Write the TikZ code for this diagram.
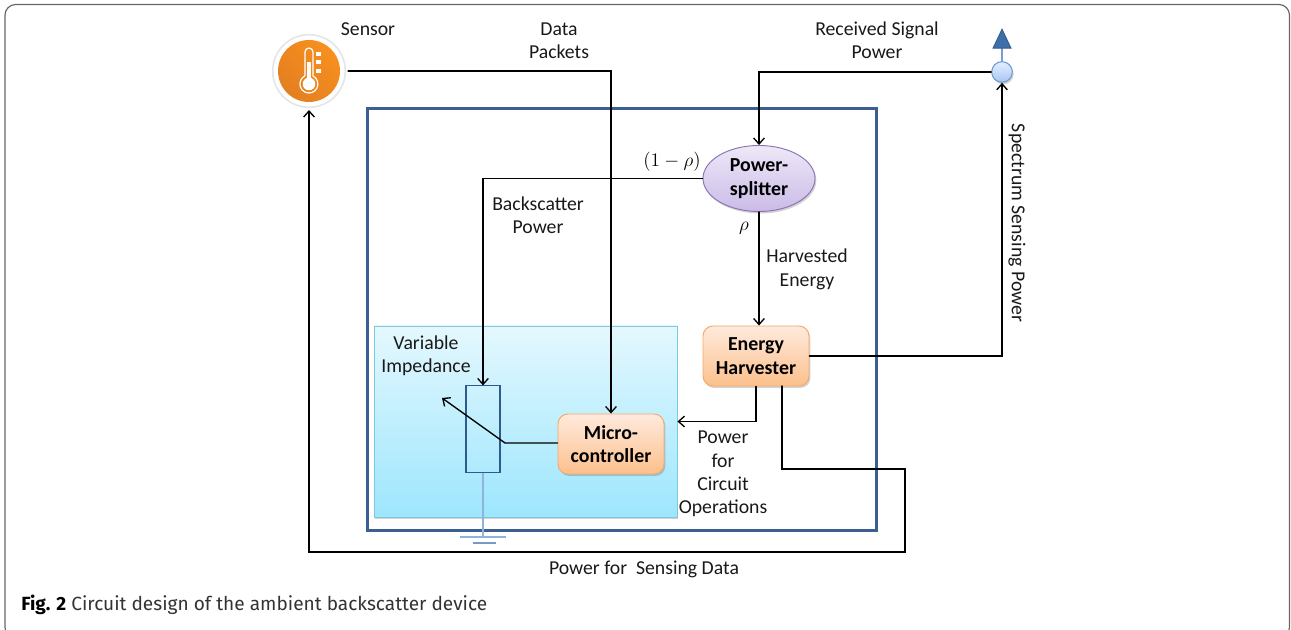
\documentclass[tikz,border=0pt]{standalone}
\usepackage{fontspec}
\setmainfont{Carlito}
\newfontfamily\capfont{Fira Sans}
\usetikzlibrary{arrows.meta,shapes.geometric,shadows,calc}
\definecolor{frameblue}{HTML}{3B5F91}
\definecolor{resblue}{HTML}{2F5A8C}
\definecolor{gndblue}{HTML}{8FB4DC}
\definecolor{orangetop}{HTML}{FFEADD}
\definecolor{orangebot}{HTML}{FCC08C}
\definecolor{orangeline}{HTML}{F6A868}
\definecolor{panelline}{HTML}{7CC8DC}
\definecolor{paneltop}{HTML}{E4F8FE}
\definecolor{panelbot}{HTML}{9DE6FD}
\definecolor{sensorin}{HTML}{F7901F}
\definecolor{sensorout}{HTML}{E47F20}
\definecolor{antline}{HTML}{6D9BD0}
\definecolor{anttop}{HTML}{E4EEFF}
\definecolor{antbot}{HTML}{A8C6F4}
\definecolor{trifill}{HTML}{3F6FA8}
\definecolor{triline}{HTML}{2F5A90}
\definecolor{splitline}{HTML}{8A72B4}
\definecolor{splittop}{HTML}{EEE8F8}
\definecolor{splitbot}{HTML}{CBBBE7}
\tikzset{
  conn/.style={line width=1pt,black,line cap=round,line join=miter},
  arr/.style={conn,-{Straight Barb[length=4.5pt,width=8pt,line width=1pt]}},
  softshadow/.style={drop shadow={shadow xshift=1pt,shadow yshift=-1.5pt,opacity=.25,fill=black!70}},
  boldtext/.style={font=\fontsize{14.9pt}{17.6pt}\selectfont\bfseries},
  orangebox/.style={rectangle,rounded corners=7.5pt,minimum width=79.5pt,minimum height=45pt,inner sep=0pt,align=center,
    top color=orangetop,bottom color=orangebot,draw=orangeline,line width=.7pt,softshadow,boldtext},
  lbl/.style={align=center,inner sep=0pt,font=\fontsize{14.8pt}{17.6pt}\selectfont,text=black!90},
  mathlbl/.style={inner sep=0pt,font=\fontsize{15pt}{18pt}\selectfont,text=black},
}
\begin{document}
\begin{tikzpicture}[x=0.75pt,y=-0.75pt]
\useasboundingbox (0,0) rectangle (1291,630);
% card frame, cut by the lower edge of the picture
\begin{scope}
\clip (0,0) rectangle (1291,630);
\draw[line width=.9pt,black!60,rounded corners=8pt] (5,4.5) rectangle (1289.5,638);
\end{scope}
% outer device rectangle
\node (device) [rectangle,minimum width=381pt,minimum height=315.75pt,inner sep=0pt] at (622,319.5) {};
\draw[frameblue,line width=2.3pt] (device.south west) rectangle (device.north east);
% cyan panel
\node (panel) [rectangle,draw=panelline,line width=.7pt,top color=paneltop,bottom color=panelbot,minimum width=227.25pt,minimum height=143.25pt,inner sep=0pt,softshadow] at (525.5,421.5) {};
% sensor
\node (sensor) [circle,draw=black!10,line width=1.2pt,fill=white,minimum size=54.5pt,inner sep=0pt,outer sep=2pt] at (309,71) {};
\node (sensorcore) [circle,top color=sensorin,bottom color=sensorout,shading angle=-45,minimum size=46.5pt,inner sep=0pt] at (309,71) {};
\draw[white,line width=.9pt] (305,76) -- (305,52) arc[start angle=180,end angle=360,radius=4] -- (313,76) arc[start angle=-63,end angle=243,radius=9];
\fill[white] (307,62) rectangle (311,80);
\fill[white] (309,84) circle[radius=6.3];
\fill[white] (316,52.5) rectangle (321,56);
\fill[white] (316,60.5) rectangle (321,64);
\fill[white] (316,69.5) rectangle (321,73);
% antenna
\node (ant) [circle,draw=antline,line width=.8pt,top color=anttop,bottom color=antbot,minimum size=15.5pt,inner sep=0pt,softshadow] at (1002,72) {};
\draw[line width=1pt,gndblue!85!blue] (ant.north) -- ++(0,-13);
\draw[fill=trifill,draw=triline,line width=.6pt,line join=miter] ($(ant.north)+(0,-13)$) -- ++(-9,0) -- ++(9,-19) -- ++(9,19) -- cycle;
% blocks
\node (split) [ellipse,draw=splitline,line width=.7pt,top color=splittop,bottom color=splitbot,minimum width=84pt,minimum height=49.5pt,inner sep=0pt,align=center,softshadow,boldtext] at (759,178.5) {\raisebox{-.6pt}{Power-}\\\raisebox{-.6pt}{splitter}};
\node (eh) [orangebox] at (756,356) {\raisebox{-.6pt}{Energy}\\\raisebox{-.6pt}{Harvester}};
\node (micro) [orangebox] at (611,444) {Micro-\\controller};
\node (res) [rectangle,minimum width=25pt,minimum height=65pt,inner sep=0pt] at (483,429) {};
\draw[resblue,line width=1.3pt] (res.south west) rectangle (res.north east);
% ground
\coordinate (g1) at (483,537);
\coordinate (g2a) at (460,537);
\coordinate (g2b) at (506,537);
\coordinate (g3a) at (473,543);
\coordinate (g3b) at (496,543);
\draw[gndblue,line width=1pt] (res.south) -- (g1) (g2a) -- (g2b);
\draw[gndblue!70!frameblue,line width=.9pt] (g3a) -- (g3b);
% connectors
\coordinate (eh2) at (782,386);
\coordinate (c1) at (905,469);
\coordinate (c2) at (905,552);
\coordinate (knee) at (505,443);
\coordinate (tip) at (442,398);
\draw[arr] (sensor.east) -- (sensor.east -| micro.north) -- (micro.north);
\draw[arr] (ant.west) -- (ant.west -| split.north) -- (split.north);
\draw[arr] (split.west) -- (split.west -| res.north) -- (res.north);
\draw[arr] (split.south) -- (split.south |- eh.north);
\draw[arr] (eh.east) -- (eh.east -| ant.south) -- (ant.south);
\draw[arr] (eh.south) |- (panel.east);
\draw[arr] (eh2) |- (c1) -- (c2) -| (sensor.south);
\draw[arr] (micro.west |- knee) -- (knee) -- (tip);
% labels
\node (lsensor) [lbl] at (368,29) {Sensor};
\node (ldata) [lbl] at (559,40.5) {Data\\Packets};
\node (lrec) [lbl] at (877,40) {Received Signal\\Power};
\node (lspec) [lbl,rotate=-90] at (1017,223) {Spectrum Sensing Power};
\node (lback) [lbl] at (538,215) {Backscatter\\Power};
\node (lharv) [lbl] at (807,269.5) {Harvested\\Energy};
\node (lvar) [lbl] at (426,355.5) {Variable\\Impedance};
\node (lcirc) [lbl] at (723,474) {Power\\for\\Circuit\\Operations};
\node (lsense) [lbl] at (644,569) {Power for\ \ Sensing Data};
\node (lone) [mathlbl] at (672,162) {$(1-\rho)$};
\node (lrho) [mathlbl] at (744,228) {$\rho$};
\node (cap) [anchor=west,inner sep=0pt,font=\capfont\fontsize{14.3pt}{17pt}\selectfont,text=black!80] at (21,605) {{\bfseries\color{black}Fig. 2} Circuit design of the ambient backscatter device};
\end{tikzpicture}
\end{document}
